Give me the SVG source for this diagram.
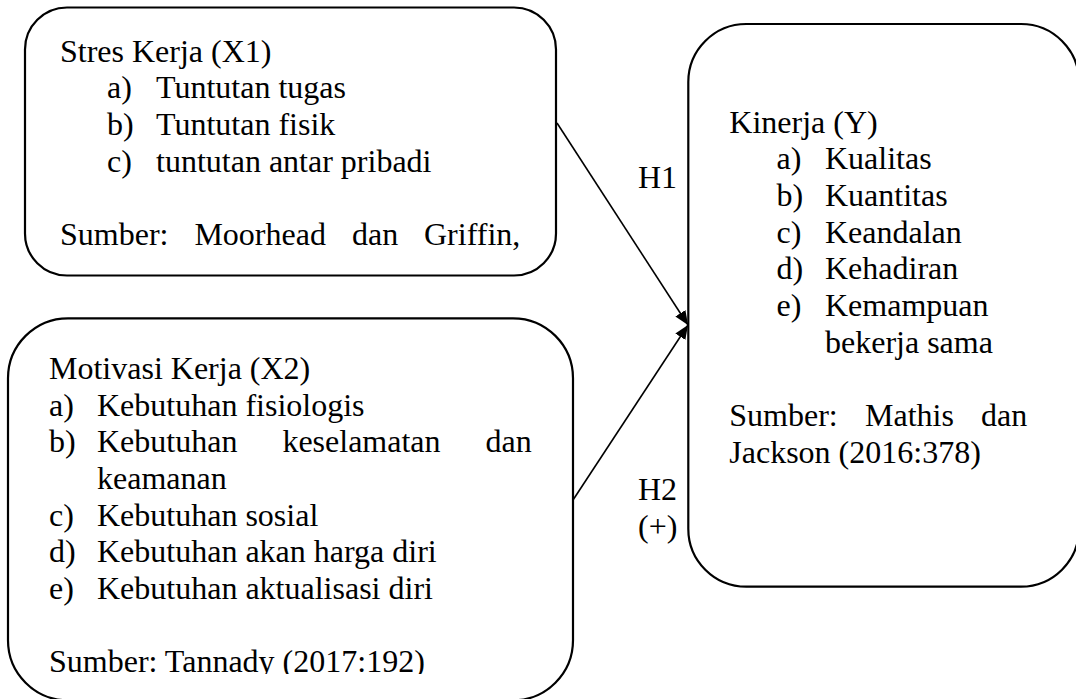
<svg xmlns="http://www.w3.org/2000/svg" width="1076" height="699" viewBox="0 0 1076 699">
<style>
.box{fill:none;stroke:#000;stroke-width:2.2}
.t{font-family:"Liberation Serif","Times New Roman",serif;font-size:32px;fill:#000}
.c{stroke:#000;stroke-width:1.6;fill:none}
</style>
<defs>
<marker id="ah" markerUnits="userSpaceOnUse" markerWidth="14" markerHeight="12" refX="14" refY="6" orient="auto">
<path d="M0,0 L14,6 L0,12 Z" fill="#000"/>
</marker>
<clipPath id="clipSrc"><rect x="0" y="0" width="1076" height="674"/></clipPath>
</defs>
<rect width="1076" height="699" fill="#fff"/>
<g id="connectors">
<line class="c" x1="557" y1="123" x2="688" y2="325" marker-end="url(#ah)"/>
<line class="c" x1="573" y1="500" x2="688" y2="325" marker-end="url(#ah)"/>
<text class="t" x="638" y="188">H1</text>
<text class="t" x="638" y="500">H2</text>
<text class="t" x="638" y="537">(+)</text>
</g>
<g id="x1">
<rect class="box" x="25" y="7.5" width="531" height="268" rx="42" ry="42"/>
<text class="t" x="60" y="61.7">Stres Kerja (X1)</text>
<text class="t" y="98.3"><tspan x="107">a)</tspan><tspan x="156">Tuntutan tugas</tspan></text>
<text class="t" y="135"><tspan x="107">b)</tspan><tspan x="156">Tuntutan fisik</tspan></text>
<text class="t" y="171.7"><tspan x="107">c)</tspan><tspan x="156">tuntutan antar pribadi</tspan></text>
<text class="t" y="245.3"><tspan x="60">Sumber:</tspan><tspan x="194.4">Moorhead</tspan><tspan x="352">dan</tspan><tspan x="424">Griffin,</tspan></text>
</g>
<g id="x2">
<rect class="box" x="8" y="318.3" width="565" height="382" rx="60" ry="60"/>
<text class="t" x="49" y="379">Motivasi Kerja (X2)</text>
<text class="t" y="415.7"><tspan x="49">a)</tspan><tspan x="97">Kebutuhan fisiologis</tspan></text>
<text class="t" y="452.3"><tspan x="49">b)</tspan><tspan x="97">Kebutuhan</tspan><tspan x="282.4">keselamatan</tspan><tspan x="485.6">dan</tspan></text>
<text class="t" x="97" y="489">keamanan</text>
<text class="t" y="525.7"><tspan x="49">c)</tspan><tspan x="97">Kebutuhan sosial</tspan></text>
<text class="t" y="562.3"><tspan x="49">d)</tspan><tspan x="97">Kebutuhan akan harga diri</tspan></text>
<text class="t" y="599"><tspan x="49">e)</tspan><tspan x="97">Kebutuhan aktualisasi diri</tspan></text>
<text class="t" x="49" y="672.3" clip-path="url(#clipSrc)">Sumber: Tannady (2017:192)</text>
</g>
<g id="y">
<rect class="box" x="688.3" y="24" width="390.7" height="562.7" rx="58" ry="58"/>
<text class="t" x="729.3" y="132.7">Kinerja (Y)</text>
<text class="t" y="169.3"><tspan x="776.5">a)</tspan><tspan x="825">Kualitas</tspan></text>
<text class="t" y="206"><tspan x="776.5">b)</tspan><tspan x="825">Kuantitas</tspan></text>
<text class="t" y="242.7"><tspan x="776.5">c)</tspan><tspan x="825">Keandalan</tspan></text>
<text class="t" y="279.3"><tspan x="776.5">d)</tspan><tspan x="825">Kehadiran</tspan></text>
<text class="t" y="316"><tspan x="776.5">e)</tspan><tspan x="825">Kemampuan</tspan></text>
<text class="t" x="825" y="352.7">bekerja sama</text>
<text class="t" y="426.3"><tspan x="729.3">Sumber:</tspan><tspan x="865">Mathis</tspan><tspan x="981">dan</tspan></text>
<text class="t" x="729.3" y="463">Jackson (2016:378)</text>
</g>
</svg>
